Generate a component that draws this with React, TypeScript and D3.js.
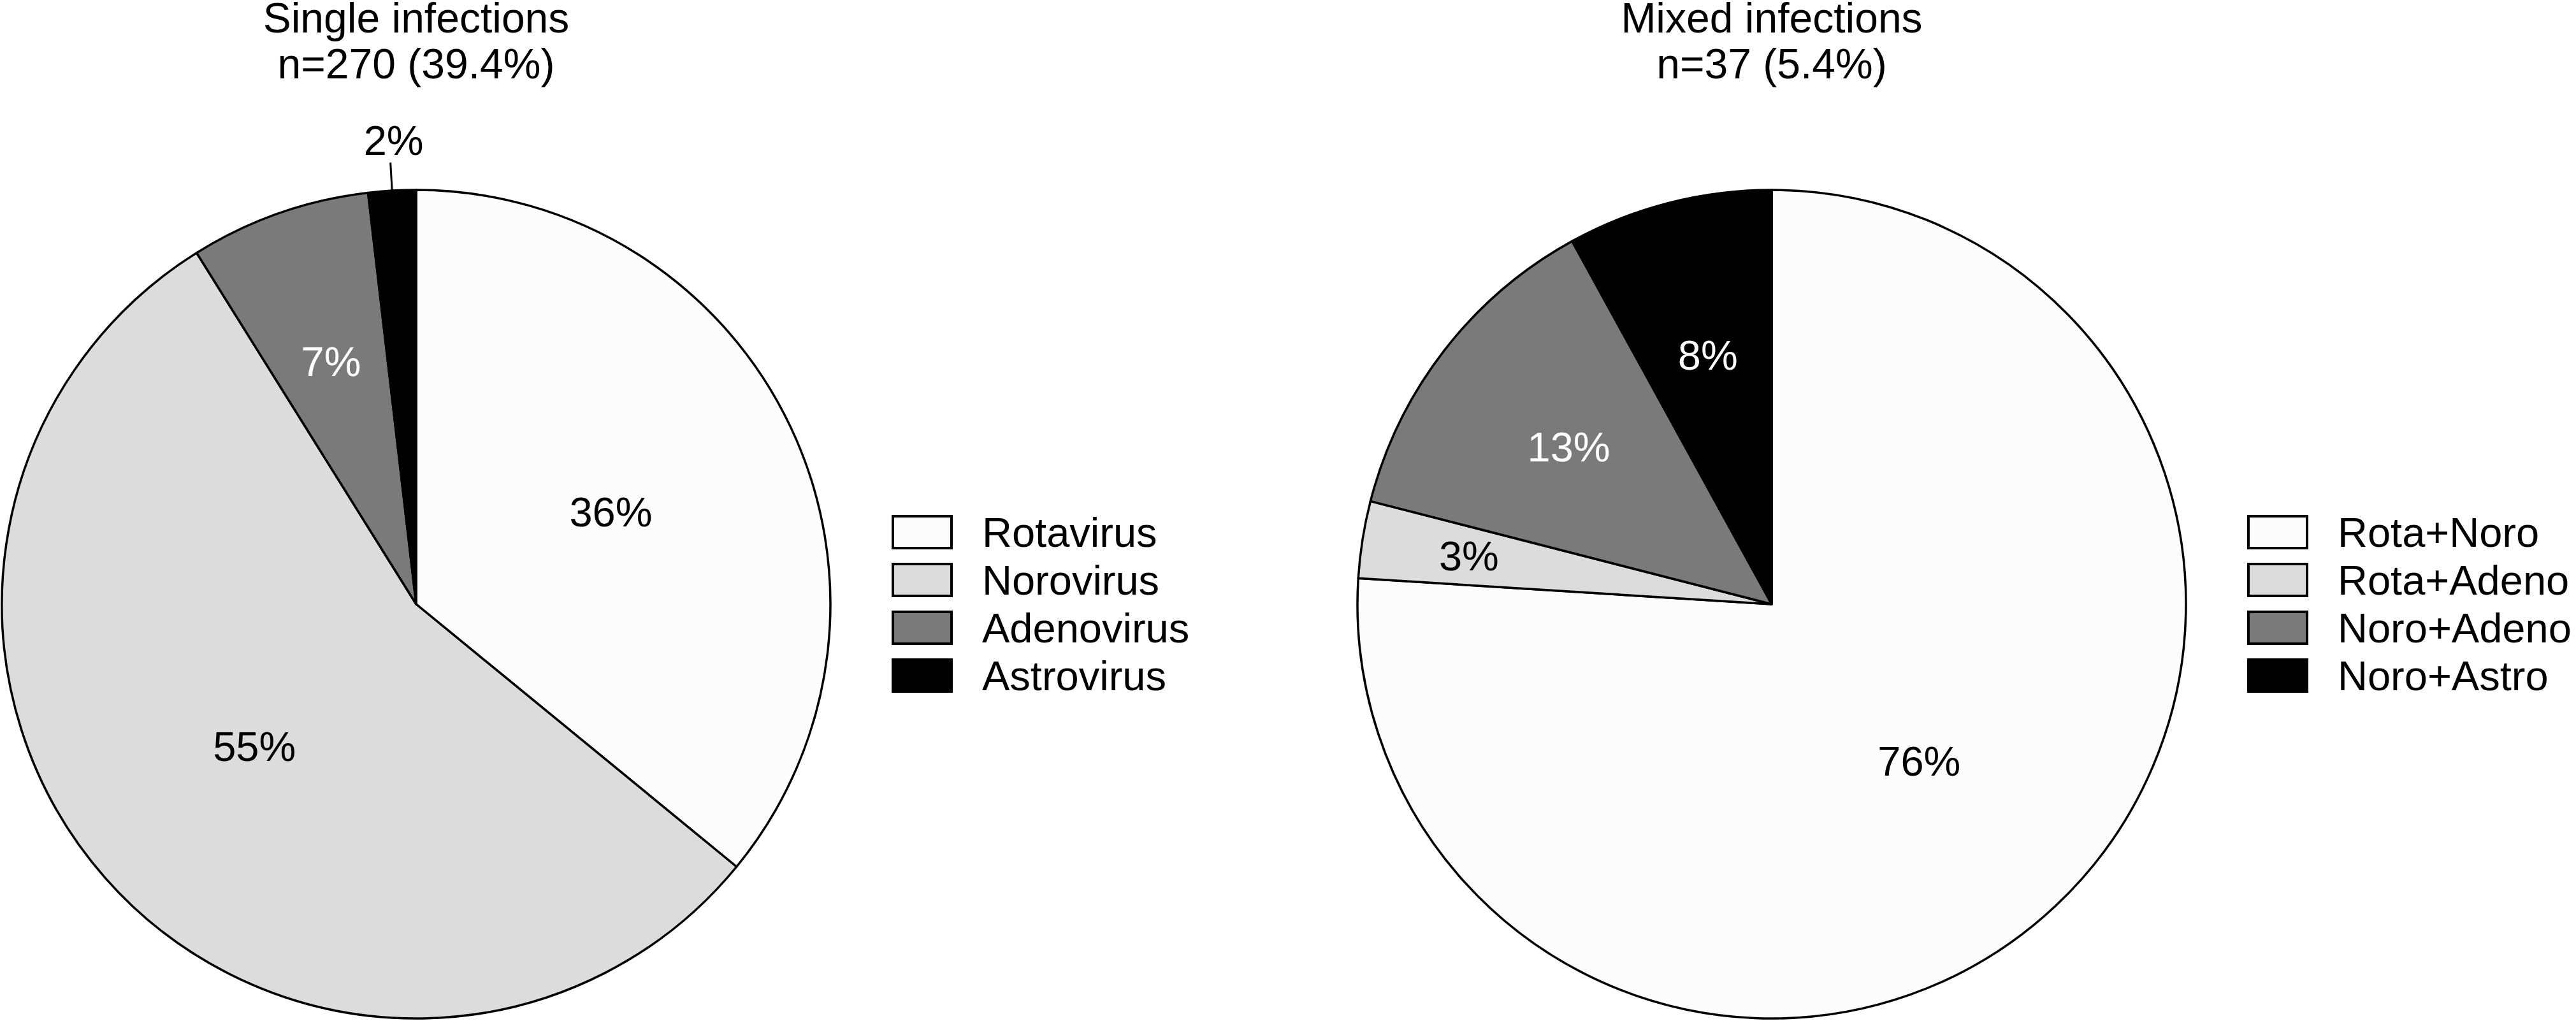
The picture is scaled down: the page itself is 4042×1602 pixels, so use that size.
import React from 'react';
import * as d3 from 'd3';

// single infections (n=270), counts
const singleNames = ['Rotavirus', 'Norovirus', 'Adenovirus', 'Astrovirus'];
const singleValues = [97, 149, 19, 5];

// mixed infections (n=37), shares in %
const mixedNames = ['Rota+Noro', 'Rota+Adeno', 'Noro+Adeno', 'Noro+Astro'];
const mixedValues = [76, 3, 13, 8];

const titles = [
  ['Single infections', 'n=270 (39.4%)'],
  ['Mixed infections', 'n=37 (5.4%)'],
];

const fills = ['#fcfcfc', '#dcdcdc', '#7a7a7a', '#000000'];
const labelColors = ['#000', '#000', '#fff', '#fff'];

const FONT = '"Liberation Sans", Arial, Helvetica, sans-serif';

function Pie(props) {
  const { cx, cy, r, names, values, title } = props;
  const total = d3.sum(values);
  const data = values.map((v, i) => ({ name: names[i], value: v, i }));

  const pie = d3.pie().sort(null).value(d => d.value);
  const arcs = pie(data);
  const arc = d3.arc().innerRadius(0).outerRadius(r);

  // label radius depends on how big the slice is (like excel's best fit)
  const labelRadius = f => (f >= 0.3 ? 0.52 : f >= 0.05 ? 0.62 : 0.74) * r;

  const legendX = cx + 748;
  const legendY = cy - 113;
  const rowH = 75;

  return (
    <g>
      <text x={cx} y={51} textAnchor="middle" fontSize={66} fontFamily={FONT}>{title[0]}</text>
      <text x={cx} y={123} textAnchor="middle" fontSize={66} fontFamily={FONT}>{title[1]}</text>

      <g transform={'translate(' + cx + ',' + cy + ')'}>
        {arcs.map((a, i) => (
          <path key={i} d={arc(a)} fill={fills[i]} stroke="#000" strokeWidth={3.5} strokeLinejoin="round" />
        ))}
        {arcs.map((a, i) => {
          const f = a.data.value / total;
          const mid = (a.startAngle + a.endAngle) / 2;
          const label = Math.round(f * 100) + '%';
          if (f < 0.025) {
            // small slice: label outside with a leader line
            const x0 = Math.sin(mid) * r;
            const y0 = -Math.cos(mid) * r;
            const x1 = Math.sin(mid) * (r + 44);
            const y1 = -Math.cos(mid) * (r + 44);
            return (
              <g key={'l' + i}>
                <line x1={x0} y1={y0} x2={x1} y2={y1} stroke="#000" strokeWidth={3} />
                <text x={x1 + 5} y={y1 - 12} textAnchor="middle" fontSize={65} fontFamily={FONT}>{label}</text>
              </g>
            );
          }
          const lr = labelRadius(f);
          const c = d3.arc().innerRadius(lr).outerRadius(lr).centroid(a);
          return (
            <text key={'l' + i} x={c[0]} y={c[1]} textAnchor="middle" dominantBaseline="central"
              fontSize={65} fontFamily={FONT} fill={labelColors[i]}>{label}</text>
          );
        })}
      </g>

      <g>
        {names.map((n, i) => (
          <g key={n}>
            <rect x={legendX} y={legendY + i * rowH - 25} width={92} height={50}
              fill={fills[i]} stroke="#000" strokeWidth={4} />
            <text x={cx + 888} y={legendY + i * rowH + 23} fontSize={65} fontFamily={FONT}>{n}</text>
          </g>
        ))}
      </g>
    </g>
  );
}

export default function App() {
  const width = 4042;
  const height = 1602;
  const r = 650;
  const cy = 948;
  return (
    <svg width={width} height={height} style={{ position: 'absolute', left: 0, top: 0, background: '#fff' }}>
      <rect width={width} height={height} fill="#fff" />
      <Pie cx={653} cy={cy} r={r} names={singleNames} values={singleValues} title={titles[0]} />
      <Pie cx={2780} cy={cy} r={r} names={mixedNames} values={mixedValues} title={titles[1]} />
    </svg>
  );
}
